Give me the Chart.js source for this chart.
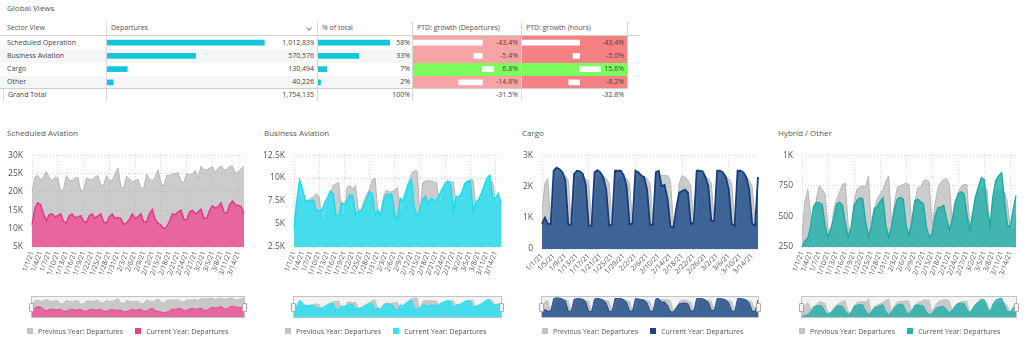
<!DOCTYPE html>
<html>
<head>
<meta charset="utf-8">
<script src="https://cdn.jsdelivr.net/npm/chart.js@4.4.1/dist/chart.umd.min.js"></script>
<style>
  html, body { margin: 0; padding: 0; background: #fff; }
  body { width: 1024px; height: 348px; position: relative; overflow: hidden;
         font-family: 'Open Sans', sans-serif; color: #444; }
  .a { position: absolute; }
  .txt { position: absolute; white-space: nowrap; line-height: 10px; height: 10px; }
  canvas { position: absolute; }
</style>
</head>
<body>
<script>
// ---------- table data ----------
const sectors = ['Scheduled Operation', 'Business Aviation', 'Cargo', 'Other'];
const departures = [1012839, 570576, 130494, 40226];
const shareOfTotal = [58, 33, 7, 2];
const growthDepartures = [-43.4, -5.4, 6.8, -14.8];
const growthHours = [-43.4, -5.0, 15.6, -8.2];
const totalDepartures = 1754135;
const totalShare = 100;
const totalGrowthDepartures = -31.5;
const totalGrowthHours = -32.8;

// ---------- daily series ----------
const dayLabels = [
  '1/1/21','1/2/21','1/3/21','1/4/21','1/5/21','1/6/21','1/7/21','1/8/21','1/9/21','1/10/21',
  '1/11/21','1/12/21','1/13/21','1/14/21','1/15/21','1/16/21','1/17/21','1/18/21','1/19/21','1/20/21',
  '1/21/21','1/22/21','1/23/21','1/24/21','1/25/21','1/26/21','1/27/21','1/28/21','1/29/21','1/30/21',
  '1/31/21','2/1/21','2/2/21','2/3/21','2/4/21','2/5/21','2/6/21','2/7/21','2/8/21','2/9/21',
  '2/10/21','2/11/21','2/12/21','2/13/21','2/14/21','2/15/21','2/16/21','2/17/21','2/18/21','2/19/21',
  '2/20/21','2/21/21','2/22/21','2/23/21','2/24/21','2/25/21','2/26/21','2/27/21','2/28/21','3/1/21',
  '3/2/21','3/3/21','3/4/21','3/5/21','3/6/21','3/7/21','3/8/21','3/9/21','3/10/21','3/11/21',
  '3/12/21','3/13/21','3/14/21','3/15/21','3/16/21'
];

const scheduledPrev = [20000,24000,24500,23200,24000,25500,24000,23000,24000,23800,20300,20800,24500,23200,23000,23800,24000,20300,20500,23800,23500,23200,24000,24500,21800,21800,24500,23000,23200,24800,26500,21500,21000,24200,23500,22800,23000,23500,21000,21000,24800,23500,23000,24000,26000,22500,21500,24500,24500,24800,25000,25200,23000,22500,25000,24500,25000,25800,23800,27000,26000,26000,26500,26800,25200,26500,27000,26000,26000,27000,27000,25000,25500,26300,27000];
const scheduledCur = [11000,15500,17000,16500,14000,12200,13800,14000,13200,13500,14000,12000,11500,13500,14000,13000,13200,13500,12000,11700,13500,14000,12800,13500,14000,11800,11500,13200,14000,12800,13000,12800,11200,11500,12500,14000,12800,13200,14000,11800,11800,14000,15200,12500,11500,11000,10000,10500,12000,14000,13800,14500,15000,12500,12500,14500,15000,14000,14500,15300,12800,12800,15000,16200,15500,16000,17000,14500,14200,16500,17500,16500,16300,16000,14000];

const businessPrev = [5000,7500,8000,7500,7500,7600,7800,8000,8300,8000,5500,5000,7300,8300,9200,9400,9500,6000,6000,9000,9200,8800,9200,6500,6500,7500,8200,8800,9800,10000,6200,6200,8000,8700,8500,8500,8700,9000,6000,6500,8000,9500,10500,10800,10800,6000,9500,9700,9700,9700,9600,9500,7000,7500,9000,9500,9600,9600,7000,7500,8500,9200,9700,9800,9800,7000,7500,8300,9000,9500,9600,9600,7500,7300,7200];
const businessCur = [4500,7500,9800,8800,7600,7500,7500,7600,6400,6500,6500,7300,7900,8600,8300,6000,5800,7300,7200,7500,8200,8100,6000,6300,6500,7000,7800,8500,8300,6000,6500,6000,7500,8200,8200,8200,6000,5500,7800,7500,8600,9500,9800,6800,5800,6500,7700,8000,7200,7800,7600,7600,8200,8800,9400,9700,9300,6500,8000,8000,8400,9400,9600,9700,6500,7300,7700,8300,9200,10000,10300,7800,7800,8300,7300];

const cargoPrev = [1200,2100,2250,850,800,2200,2300,2300,2350,2200,850,800,2250,2300,2300,2250,2150,850,800,2200,2300,2300,2250,2100,850,800,2200,2300,2300,2250,2100,850,800,2200,2300,2300,2250,2100,850,800,2300,2350,2350,2350,2200,850,800,2100,2350,2300,2200,2000,850,800,2200,2300,2300,2250,2100,900,850,2200,2300,2300,2250,2100,850,800,2200,2300,2300,2200,2000,900,850];
const cargoCur = [800,1000,800,800,2500,2600,2550,2450,2200,780,780,2400,2500,2480,2400,2050,750,750,2450,2520,2450,2300,1900,750,780,2500,2500,2500,2350,2000,800,800,2500,2450,2350,2300,1900,780,780,2450,2500,2000,2050,1600,720,680,1300,1800,1850,1900,1800,800,850,2500,2500,2480,2300,2000,900,900,2500,2500,2450,2300,1900,800,750,2500,2500,2450,2300,1900,800,750,2300];

const hybridPrev = [350,620,720,520,400,650,750,720,680,400,380,560,640,700,760,770,420,380,620,720,740,750,740,830,420,560,640,680,720,790,830,420,620,740,750,760,770,760,400,620,730,740,790,800,780,420,600,730,780,800,810,760,420,560,700,740,760,760,420,500,620,700,720,750,720,400,580,700,720,720,700,620,400,380,500];
const hybridCur = [250,300,320,420,580,615,610,595,420,330,400,480,600,615,590,440,330,410,580,630,650,645,450,335,420,560,580,620,650,420,330,420,560,640,655,640,420,345,460,625,640,620,600,410,330,360,500,570,575,590,480,390,480,620,680,700,685,520,380,520,660,740,815,800,560,420,660,790,830,855,640,430,410,550,670];

const seriesNames = ['Previous Year: Departures', 'Current Year: Departures'];

// ---------- helpers ----------
Chart.defaults.font.family = "'Open Sans', sans-serif";
Chart.defaults.color = '#555';

function box(x, y, w, h, bg, extra) {
  const d = document.createElement('div');
  d.className = 'a';
  Object.assign(d.style, { left: x + 'px', top: y + 'px', width: w + 'px', height: h + 'px', background: bg }, extra || {});
  document.body.appendChild(d);
  return d;
}
function text(str, x, yc, opts) {
  opts = opts || {};
  const d = document.createElement('div');
  d.className = 'txt';
  d.textContent = str;
  const size = opts.size || 7;
  d.style.fontSize = size + 'px';
  d.style.color = opts.color || '#444';
  d.style.top = (yc - 5) + 'px';
  if (opts.align === 'right') {
    d.style.left = (x - 300) + 'px';
    d.style.width = '300px';
    d.style.textAlign = 'right';
  } else {
    d.style.left = x + 'px';
  }
  document.body.appendChild(d);
  return d;
}
function canvasAt(x, y, w, h) {
  const c = document.createElement('canvas');
  c.width = w; c.height = h;
  c.style.left = x + 'px'; c.style.top = y + 'px';
  c.style.width = w + 'px'; c.style.height = h + 'px';
  document.body.appendChild(c);
  return c;
}
const fmtInt = v => v.toLocaleString('en-US');
const fmtPct1 = v => v.toFixed(1) + '%';

// ---------- heading ----------
text('Global Views', 7, 8, { size: 8, color: '#555' });

// ---------- table ----------
const tblTop = 21.7, headBottom = 35, rowTop = 36, rowH = 13.25, totalTop = 89, tblBottom = 101;
const lineC = '#d9d9d9';
const rowCenter = i => rowTop + rowH * (i + 0.5);

// zebra rows
sectors.forEach((s, i) => {
  if (i % 2 === 1) box(0, headBottom + rowH * i + 1, 627, rowH, '#f6f6f6');
});
// column separators
[[106, tblTop, tblBottom], [317, tblTop, tblBottom], [412, tblTop, tblBottom],
 [521, tblTop, tblBottom], [627, tblTop, totalTop], [3, totalTop, tblBottom]].forEach(([x, y0, y1]) => {
  box(x, y0, 1, y1 - y0, lineC);
});
// growth cell backgrounds
growthDepartures.forEach((v, i) => {
  box(413, headBottom + rowH * i + 1, 108, rowH, v < 0 ? '#f9a4a4' : '#7dfc5e');
});
growthHours.forEach((v, i) => {
  box(522, headBottom + rowH * i + 1, 105, rowH, v < 0 ? '#f58282' : '#7dfc5e');
});
// horizontal rules
box(0, headBottom, 640, 1, '#cfcfcf');
box(0, totalTop - 1, 627, 1, '#cfcfcf');

// header
const headY = 28.3;
text('Sector View', 7, headY, { color: '#555' });
text('Departures', 111, headY, { color: '#555' });
text('% of total', 322, headY, { color: '#555' });
text('PTD: growth (Departures)', 417, headY, { color: '#555' });
text('PTD: growth (hours)', 526, headY, { color: '#555' });
box(306.5, 25.5, 3, 3, 'transparent', { borderRight: '1px solid #888', borderBottom: '1px solid #888', transform: 'rotate(45deg)' });

// body text
sectors.forEach((s, i) => {
  const y = rowCenter(i);
  text(s, 7, y);
  text(fmtInt(departures[i]), 314, y, { align: 'right' });
  text(shareOfTotal[i] + '%', 410, y, { align: 'right' });
  text(fmtPct1(growthDepartures[i]), 518, y, { align: 'right' });
  text(fmtPct1(growthHours[i]), 624, y, { align: 'right' });
});
const totY = 95;
text('Grand Total', 8, totY);
text(fmtInt(totalDepartures), 314, totY, { align: 'right' });
text(totalShare + '%', 410, totY, { align: 'right' });
text(fmtPct1(totalGrowthDepartures), 518, totY, { align: 'right' });
text(fmtPct1(totalGrowthHours), 624, totY, { align: 'right' });

// in-cell bars
function cellBars(x, w, values, min, max, color, thickness) {
  const c = canvasAt(x, rowTop, w, rowH * 4);
  new Chart(c, {
    type: 'bar',
    data: { labels: sectors, datasets: [{ data: values, backgroundColor: color, borderWidth: 0, barThickness: thickness }] },
    options: {
      indexAxis: 'y', responsive: false, animation: false, events: [],
      layout: { padding: 0 },
      plugins: { legend: { display: false }, tooltip: { enabled: false } },
      scales: { x: { display: false, min: min, max: max }, y: { display: false } }
    }
  });
}
cellBars(107, 210, departures, 0, 1352000, '#12c6dc', 5);
cellBars(318, 94, shareOfTotal, 0, 76, '#12c6dc', 5);
cellBars(413, 108, growthDepartures, -43.4, 24.1, '#ffffff', 5);
cellBars(522, 105, growthHours, -43.4, 35.6, '#ffffff', 5);

// ---------- area panels ----------
const panels = [
  { title: 'Scheduled Aviation', titleX: 7, left: 0, w: 250, yw: 32, prev: scheduledPrev, cur: scheduledCur,
    min: 5000, max: 30000, step: 5000, every: 3, rot: 70, xh: 39,
    fill: 'rgba(236,92,154,0.9)', line: '#e6388a', lw: 1.5, key: '#f0407f', legendX: 27,
    fmt: v => (v / 1000) + 'K' },
  { title: 'Business Aviation', titleX: 264, left: 257, w: 250, yw: 37, prev: businessPrev, cur: businessCur,
    min: 2500, max: 12500, step: 2500, every: 3, rot: 70, xh: 39,
    fill: 'rgba(46,222,240,0.86)', line: '#1edcf0', lw: 1.5, key: '#2ee6f5', legendX: 285,
    fmt: v => (v / 1000) + 'K' },
  { title: 'Cargo', titleX: 522, left: 515, w: 249, yw: 27, prev: cargoPrev, cur: cargoCur,
    min: 0, max: 3000, step: 1000, every: 4, rot: 45, xh: 37,
    fill: 'rgba(36,82,140,0.85)', line: '#163e7c', lw: 1.8, key: '#1a4686', legendX: 542,
    fmt: v => v === 0 ? '0' : (v / 1000) + 'K' },
  { title: 'Hybrid / Other', titleX: 778, left: 772, w: 250, yw: 30, prev: hybridPrev, cur: hybridCur,
    min: 250, max: 1000, step: 250, every: 3, rot: 70, xh: 39,
    fill: 'rgba(32,176,170,0.8)', line: '#22aaa6', lw: 1.5, key: '#2db3ae', legendX: 799,
    fmt: v => v >= 1000 ? (v / 1000) + 'K' : String(v) }
];

// the y-axis reserves half a label plus tick padding above the plot (~14px)
const padRight = 6, canvasTop = 141, canvasH = 145;
const gridC = '#d6d6d6';
const prevFill = 'rgba(172,172,172,0.62)', prevLine = '#b7b7b7';

function datasets(p, thin) {
  return [
    { label: seriesNames[0], data: p.prev, borderColor: prevLine, backgroundColor: prevFill,
      borderWidth: thin ? 0.5 : 1, fill: 'start', pointRadius: 0, tension: 0, order: 2 },
    { label: seriesNames[1], data: p.cur, borderColor: p.line, backgroundColor: p.fill,
      borderWidth: thin ? 0.8 : p.lw, fill: 'start', pointRadius: 0, tension: 0, order: 1 }
  ];
}

panels.forEach(p => {
  text(p.title, p.titleX, 133.3, { size: 8, color: '#555' });

  const c = canvasAt(p.left, canvasTop, p.w, canvasH);
  new Chart(c, {
    type: 'line',
    data: { labels: dayLabels, datasets: datasets(p, false) },
    options: {
      responsive: false, animation: false, events: [],
      layout: { padding: { top: 4, right: padRight, left: 0, bottom: 0 } },
      plugins: { legend: { display: false }, tooltip: { enabled: false } },
      scales: {
        x: {
          grid: { color: ctx => (ctx.index % p.every === 0 ? gridC : 'rgba(0,0,0,0)'), drawTicks: false },
          border: { display: false, dash: [1, 2] },
          ticks: {
            autoSkip: false, minRotation: p.rot, maxRotation: p.rot, padding: 3,
            font: { size: 7 }, color: '#555',
            callback: function (v, i) { return i % p.every === 0 ? this.getLabelForValue(v) : null; }
          },
          afterFit: s => { s.height = p.xh; }
        },
        y: {
          min: p.min, max: p.max,
          grid: { color: gridC, drawTicks: false },
          border: { display: false, dash: [1, 2] },
          ticks: { stepSize: p.step, padding: 9, font: { size: 8.5 }, color: '#555', callback: p.fmt },
          afterFit: s => { s.width = p.yw; }
        }
      }
    }
  });

  // range navigator
  const plotL = p.left + p.yw, plotR = p.left + p.w - padRight;
  const nx = plotL - 1, nw = plotR - plotL + 2, ny = 296, nh = 22;
  box(nx, ny, nw - 2, nh - 2, '#f3f3f3', { border: '1px solid #c4c4c4' });
  const nc = canvasAt(nx + 1, ny + 1, nw - 2, nh - 2);
  const top = Math.max.apply(null, p.prev.concat(p.cur));
  new Chart(nc, {
    type: 'line',
    data: { labels: dayLabels, datasets: datasets(p, true) },
    options: {
      responsive: false, animation: false, events: [],
      layout: { padding: 0 },
      plugins: { legend: { display: false }, tooltip: { enabled: false } },
      scales: { x: { display: false }, y: { display: false, min: p.min, max: top * 1.04 } }
    }
  });
  [nx - 2, nx + nw - 3].forEach(hx => {
    box(hx, 303, 3, 7, '#f4f4f4', { border: '1px solid #aaa', borderRadius: '1px' });
  });

  // legend
  const lg = document.createElement('div');
  lg.className = 'a';
  Object.assign(lg.style, { left: p.legendX + 'px', top: '326px', height: '10px', display: 'flex',
    alignItems: 'center', fontSize: '7px', color: '#555', whiteSpace: 'nowrap' });
  [['#c3c3c3', seriesNames[0]], [p.key, seriesNames[1]]].forEach(([col, name], k) => {
    const sq = document.createElement('span');
    Object.assign(sq.style, { display: 'inline-block', width: '6px', height: '6px', background: col,
      marginRight: '5px', marginLeft: k ? '12px' : '0' });
    const t = document.createElement('span');
    t.textContent = name;
    lg.appendChild(sq); lg.appendChild(t);
  });
  document.body.appendChild(lg);
});
</script>
</body>
</html>
